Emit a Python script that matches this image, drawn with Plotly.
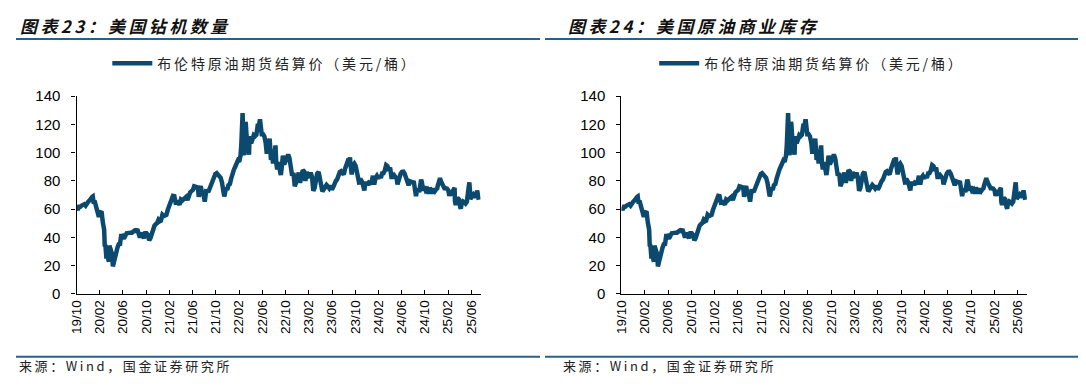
import pandas as pd
import plotly.graph_objects as go

# ---------------- data ----------------
TITLE_LEFT = "图表23：美国钻机数量"
TITLE_RIGHT = "图表24：美国原油商业库存"
SERIES_NAME = "布伦特原油期货结算价（美元/桶）"
SOURCE = "来源：Wind，国金证券研究所"

TICK_LABELS = ["19/10", "20/02", "20/06", "20/10", "21/02", "21/06", "21/10", "22/02",
               "22/06", "22/10", "23/02", "23/06", "23/10", "24/02", "24/06", "24/10",
               "25/02", "25/06"]
Y_TICKS = [0, 20, 40, 60, 80, 100, 120, 140]

dates = [
    "2019-10-14", "2019-10-18", "2019-10-25", "2019-11-01", "2019-11-08", "2019-11-15", "2019-11-22",
    "2019-11-29", "2019-12-06", "2019-12-13", "2019-12-20", "2019-12-27",
    "2020-01-03", "2020-01-06", "2020-01-10", "2020-01-17", "2020-01-24", "2020-01-31",
    "2020-02-07", "2020-02-14", "2020-02-21", "2020-02-28",
    "2020-03-06", "2020-03-09", "2020-03-13", "2020-03-18", "2020-03-20", "2020-03-27", "2020-03-31",
    "2020-04-03", "2020-04-09", "2020-04-17", "2020-04-21", "2020-04-24", "2020-04-30",
    "2020-05-08", "2020-05-15", "2020-05-22", "2020-05-29",
    "2020-06-05", "2020-06-12", "2020-06-19", "2020-06-26",
    "2020-07-03", "2020-07-10", "2020-07-17", "2020-07-24", "2020-07-31",
    "2020-08-07", "2020-08-14", "2020-08-21", "2020-08-28",
    "2020-09-04", "2020-09-11", "2020-09-18", "2020-09-25",
    "2020-10-02", "2020-10-09", "2020-10-16", "2020-10-23", "2020-10-30",
    "2020-11-06", "2020-11-13", "2020-11-20", "2020-11-27",
    "2020-12-04", "2020-12-11", "2020-12-18", "2020-12-24", "2020-12-31",
    "2021-01-08", "2021-01-15", "2021-01-22", "2021-01-29",
    "2021-02-05", "2021-02-12", "2021-02-19", "2021-02-26",
    "2021-03-05", "2021-03-12", "2021-03-19", "2021-03-26",
    "2021-04-01", "2021-04-09", "2021-04-16", "2021-04-23", "2021-04-30",
    "2021-05-07", "2021-05-14", "2021-05-21", "2021-05-28",
    "2021-06-04", "2021-06-11", "2021-06-18", "2021-06-25",
    "2021-07-02", "2021-07-09", "2021-07-16", "2021-07-19", "2021-07-23", "2021-07-30",
    "2021-08-06", "2021-08-13", "2021-08-20", "2021-08-27",
    "2021-09-03", "2021-09-10", "2021-09-17", "2021-09-24",
    "2021-10-01", "2021-10-08", "2021-10-15", "2021-10-22", "2021-10-29",
    "2021-11-05", "2021-11-12", "2021-11-19", "2021-11-26",
    "2021-12-01", "2021-12-03", "2021-12-10", "2021-12-17", "2021-12-23", "2021-12-31",
    "2022-01-07", "2022-01-14", "2022-01-21", "2022-01-28",
    "2022-02-04", "2022-02-11", "2022-02-18", "2022-02-25",
    "2022-03-01", "2022-03-04", "2022-03-08", "2022-03-11", "2022-03-16", "2022-03-18",
    "2022-03-23", "2022-03-25", "2022-03-31",
    "2022-04-08", "2022-04-11", "2022-04-14", "2022-04-22", "2022-04-29",
    "2022-05-06", "2022-05-13", "2022-05-20", "2022-05-27",
    "2022-06-03", "2022-06-08", "2022-06-10", "2022-06-17", "2022-06-24",
    "2022-07-01", "2022-07-08", "2022-07-14", "2022-07-15", "2022-07-22", "2022-07-29",
    "2022-08-05", "2022-08-12", "2022-08-16", "2022-08-19", "2022-08-26", "2022-08-29",
    "2022-09-02", "2022-09-07", "2022-09-09", "2022-09-16", "2022-09-23", "2022-09-26", "2022-09-30",
    "2022-10-07", "2022-10-14", "2022-10-21", "2022-10-28",
    "2022-11-04", "2022-11-11", "2022-11-18", "2022-11-25",
    "2022-12-02", "2022-12-09", "2022-12-16", "2022-12-23", "2022-12-30",
    "2023-01-06", "2023-01-13", "2023-01-20", "2023-01-27",
    "2023-02-03", "2023-02-10", "2023-02-17", "2023-02-24",
    "2023-03-03", "2023-03-10", "2023-03-17", "2023-03-20", "2023-03-24", "2023-03-31",
    "2023-04-06", "2023-04-14", "2023-04-21", "2023-04-28",
    "2023-05-04", "2023-05-12", "2023-05-19", "2023-05-26",
    "2023-06-02", "2023-06-09", "2023-06-16", "2023-06-23", "2023-06-30",
    "2023-07-07", "2023-07-14", "2023-07-21", "2023-07-28",
    "2023-08-04", "2023-08-11", "2023-08-18", "2023-08-25",
    "2023-09-01", "2023-09-08", "2023-09-15", "2023-09-22", "2023-09-27", "2023-09-29",
    "2023-10-06", "2023-10-13", "2023-10-20", "2023-10-27",
    "2023-11-03", "2023-11-10", "2023-11-16", "2023-11-17", "2023-11-24",
    "2023-12-01", "2023-12-08", "2023-12-12", "2023-12-15", "2023-12-22", "2023-12-29",
    "2024-01-05", "2024-01-12", "2024-01-19", "2024-01-26",
    "2024-02-02", "2024-02-09", "2024-02-16", "2024-02-23",
    "2024-03-01", "2024-03-08", "2024-03-15", "2024-03-22", "2024-03-28",
    "2024-04-05", "2024-04-12", "2024-04-19", "2024-04-26",
    "2024-05-03", "2024-05-10", "2024-05-17", "2024-05-24", "2024-05-31",
    "2024-06-04", "2024-06-07", "2024-06-14", "2024-06-21", "2024-06-28",
    "2024-07-05", "2024-07-12", "2024-07-19", "2024-07-26",
    "2024-08-02", "2024-08-09", "2024-08-16", "2024-08-23", "2024-08-30",
    "2024-09-06", "2024-09-10", "2024-09-13", "2024-09-20", "2024-09-27",
    "2024-10-04", "2024-10-07", "2024-10-11", "2024-10-18", "2024-10-25",
    "2024-11-01", "2024-11-08", "2024-11-15", "2024-11-22", "2024-11-29",
    "2024-12-06", "2024-12-13", "2024-12-20", "2024-12-27", "2024-12-31",
    "2025-01-03", "2025-01-10", "2025-01-15", "2025-01-17", "2025-01-24", "2025-01-31",
    "2025-02-07", "2025-02-14", "2025-02-21", "2025-02-28",
    "2025-03-05", "2025-03-07", "2025-03-14", "2025-03-21", "2025-03-28",
    "2025-04-02", "2025-04-04", "2025-04-08", "2025-04-11", "2025-04-17", "2025-04-25",
    "2025-05-02", "2025-05-05", "2025-05-09", "2025-05-16", "2025-05-23", "2025-05-30",
    "2025-06-06", "2025-06-13", "2025-06-19", "2025-06-20", "2025-06-23", "2025-06-24", "2025-06-27",
    "2025-07-03", "2025-07-11", "2025-07-18", "2025-07-25", "2025-07-30",
    "2025-08-01", "2025-08-08",
]

prices = [
    60.5, 59.4, 61.7, 61.7, 62.5, 63.3, 63.4,
    62.4, 64.4, 65.2, 66.1, 68.2,
    68.6, 68.9, 65.0, 64.9, 60.7, 58.2,
    54.5, 57.3, 58.5, 50.5,
    45.3, 34.4, 33.9, 24.9, 27.0, 25.0, 22.7,
    34.1, 31.5, 28.1, 19.3, 21.4, 25.3,
    31.0, 32.5, 35.1, 35.3,
    42.3, 38.7, 42.2, 41.0,
    42.8, 43.2, 43.1, 43.3, 43.3,
    44.4, 44.8, 44.4, 45.8,
    42.7, 39.8, 43.2, 41.9,
    39.3, 42.9, 42.9, 41.8, 37.9,
    39.5, 42.8, 45.0, 48.2,
    49.3, 50.0, 52.3, 51.3, 51.8,
    56.0, 55.1, 55.4, 55.9,
    59.3, 62.4, 62.9, 66.1,
    69.4, 69.2, 64.5, 64.6,
    64.9, 63.0, 66.8, 66.1, 67.3,
    68.3, 68.7, 66.4, 69.6,
    71.9, 72.7, 73.5, 76.2,
    76.2, 75.6, 73.6, 68.6, 74.1, 76.3,
    70.7, 70.6, 65.2, 72.7,
    72.6, 72.9, 75.3, 78.1,
    79.3, 82.4, 84.9, 85.5, 84.4,
    82.7, 82.2, 78.9, 72.7,
    68.9, 69.9, 75.2, 73.5, 76.9, 77.8,
    81.8, 86.1, 87.9, 90.0,
    93.3, 94.4, 93.5, 97.9,
    105.0, 118.1, 128.0, 112.7, 98.0, 107.9,
    121.6, 120.7, 107.9,
    102.8, 98.5, 111.7, 106.7, 109.3,
    112.4, 111.6, 112.6, 119.4,
    119.7, 123.6, 122.0, 113.1, 113.1,
    111.6, 107.0, 99.1, 101.2, 103.2, 110.0,
    94.9, 98.2, 92.3, 96.7, 101.0, 105.1,
    93.0, 88.0, 92.8, 91.4, 86.2, 84.1, 88.0,
    97.9, 91.6, 93.5, 95.8,
    98.6, 96.0, 87.6, 83.6,
    85.6, 76.1, 79.0, 83.9, 85.9,
    78.6, 85.3, 87.6, 86.7,
    79.9, 86.4, 83.0, 83.2,
    85.8, 82.8, 73.0, 73.8, 75.0, 79.8,
    85.1, 86.3, 81.7, 79.5,
    72.5, 74.2, 75.6, 77.1,
    76.1, 74.8, 76.6, 73.9, 75.4,
    78.5, 79.9, 81.1, 85.0,
    86.2, 86.8, 84.8, 84.5,
    88.6, 90.7, 93.9, 93.3, 96.6, 92.2,
    84.6, 90.9, 92.2, 90.5,
    84.9, 81.4, 77.4, 80.6, 80.6,
    78.9, 75.8, 73.2, 76.6, 79.1, 77.0,
    78.8, 78.3, 78.6, 83.6,
    77.3, 82.2, 83.5, 81.6,
    83.6, 82.1, 85.3, 85.4, 87.0,
    91.2, 90.5, 87.3, 89.5,
    82.8, 82.8, 84.0, 82.1, 81.6,
    77.5, 79.6, 82.6, 85.2, 86.4,
    86.5, 85.0, 82.6, 81.1,
    76.8, 79.7, 79.7, 79.0, 78.8,
    71.1, 69.2, 71.6, 74.5, 72.0,
    78.1, 80.9, 79.0, 73.1, 76.1,
    73.1, 73.9, 71.0, 75.2, 72.9,
    71.1, 74.5, 72.9, 74.2, 74.6,
    76.5, 79.8, 82.0, 81.0, 78.5, 76.8,
    74.7, 74.7, 74.4, 73.2,
    69.3, 70.4, 70.6, 72.2, 73.6,
    75.0, 65.6, 62.8, 64.8, 68.0, 66.9,
    61.3, 60.2, 63.9, 65.4, 64.8, 63.9,
    65.3, 74.2, 78.9, 77.0, 71.5, 67.1, 67.8,
    68.8, 70.4, 69.3, 68.4, 73.2,
    69.7, 66.6,
]

# ---------------- styling ----------------
PAGE_W, PAGE_H = 1086, 387
BODY_MARGIN = 8  # default page margin around the plot div
W, H = PAGE_W - 2 * BODY_MARGIN, PAGE_H - 2 * BODY_MARGIN
LINE_COLOR = "#0B4A6E"
RULE_COLOR = "#2A5F86"
CJK = "Noto Sans CJK SC"
NUM_FONT = "Liberation Sans, Arial, sans-serif"
TS = "\u2009"  # thin space used as letter spacing


def spaced(s):
    return TS.join(s)


def fx(p):
    """page pixel x -> paper fraction"""
    return (p - BODY_MARGIN) / W


def fy(p):
    """page pixel y (from top) -> paper fraction"""
    return 1 - (p - BODY_MARGIN) / H


x_start = pd.Timestamp("2019-10-12")
x_end = pd.Timestamp("2025-08-17")
tick_vals = [x_start + pd.Timedelta(days=122.8 * i) for i in range(len(TICK_LABELS))]

fig = go.Figure()
for xa, ya, lg in [("x", "y", "legend"), ("x2", "y2", "legend2")]:
    fig.add_trace(go.Scatter(
        x=pd.to_datetime(dates), y=prices, mode="lines",
        name=spaced(SERIES_NAME),
        line=dict(color=LINE_COLOR, width=4.5),
        xaxis=xa, yaxis=ya, legend=lg, showlegend=True,
    ))

xaxis_common = dict(
    type="date", range=[x_start, x_end], tickvals=tick_vals, ticktext=TICK_LABELS,
    tickangle=-90, ticks="inside", ticklen=4, tickwidth=1, tickcolor="#000",
    showline=True, linecolor="#000", linewidth=1.3, showgrid=False, zeroline=False,
    tickfont=dict(family=NUM_FONT, size=13.5, color="#000"),
)
yaxis_common = dict(
    range=[0, 140], tickvals=Y_TICKS, ticks="outside", ticklen=4, tickwidth=1, tickcolor="#000",
    showline=True, linecolor="#000", linewidth=1.3, showgrid=False, zeroline=False,
    tickfont=dict(family=NUM_FONT, size=15, color="#000"), ticklabelstandoff=8,
)

y_dom = [fy(298), fy(91)]
fig.update_layout(
    width=W, height=H, margin=dict(l=0, r=0, t=0, b=0),
    paper_bgcolor="white", plot_bgcolor="white",
    xaxis=dict(domain=[fx(69), fx(476)], anchor="y", **xaxis_common),
    yaxis=dict(domain=y_dom, anchor="x", **yaxis_common),
    xaxis2=dict(domain=[fx(618), fx(1026.5)], anchor="y2", **xaxis_common),
    yaxis2=dict(domain=y_dom, anchor="x2", **yaxis_common),
    legend=dict(x=fx(100), y=fy(57), xanchor="left", yanchor="middle",
                bgcolor="rgba(0,0,0,0)", borderwidth=0, itemwidth=40,
                font=dict(family=CJK, size=14, color="#222")),
    legend2=dict(x=fx(651), y=fy(57), xanchor="left", yanchor="middle",
                 bgcolor="rgba(0,0,0,0)", borderwidth=0, itemwidth=40,
                 font=dict(family=CJK, size=14, color="#222")),
    showlegend=True,
)

# titles
for xpos, txt in [(10, TITLE_LEFT), (562, TITLE_RIGHT)]:
    fig.add_annotation(x=fx(xpos), y=fy(17), xref="paper", yref="paper",
                       xanchor="left", yanchor="middle", showarrow=False,
                       text="<b><i>" + spaced(txt) + "</i></b>",
                       font=dict(family=CJK, size=17, color="#111"))
# sources
for xpos in [9, 557]:
    fig.add_annotation(x=fx(xpos), y=fy(373), xref="paper", yref="paper",
                       xanchor="left", yanchor="middle", showarrow=False,
                       text=spaced(SOURCE),
                       font=dict(family=CJK, size=13, color="#222"))

# horizontal rules
for (x0, x1) in [(BODY_MARGIN, 536), (541, PAGE_W - BODY_MARGIN)]:
    for yy in (31, 364):
        fig.add_shape(type="line", xref="paper", yref="paper",
                      x0=fx(x0), x1=fx(x1), y0=fy(yy), y1=fy(yy),
                      line=dict(color=RULE_COLOR, width=2))

fig.write_html("out.html", config={"displayModeBar": False})
